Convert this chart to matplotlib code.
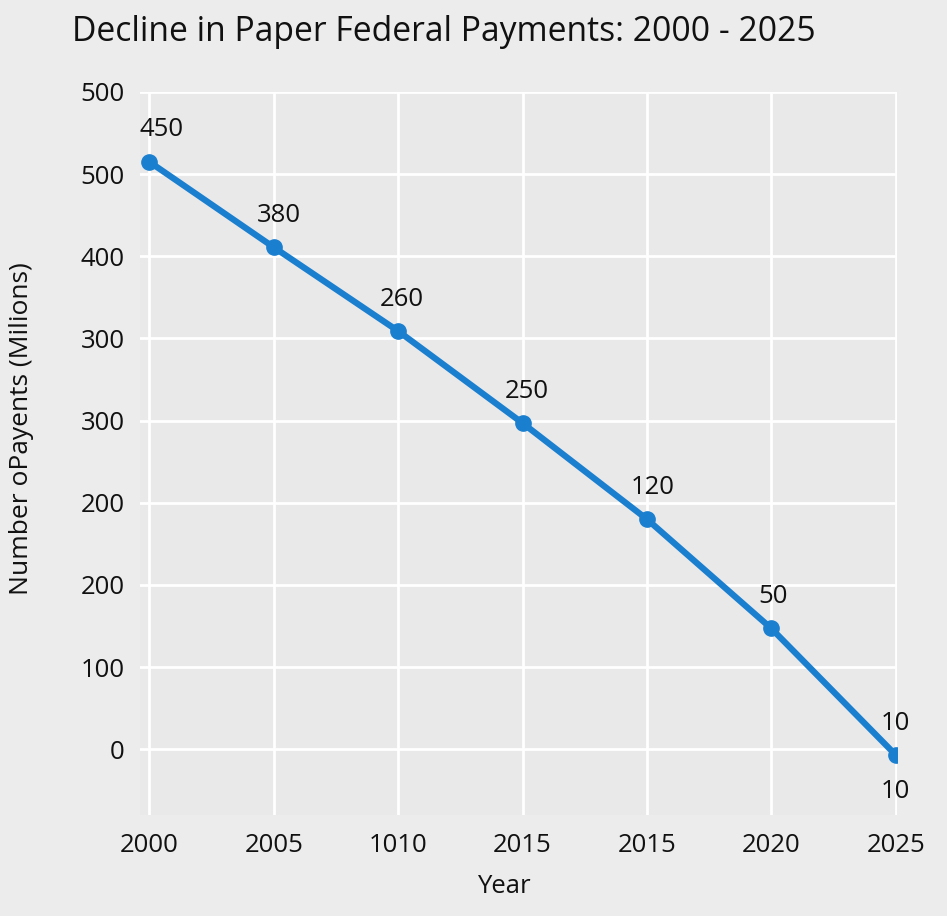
import matplotlib.pyplot as plt

# data (axis units: one grid step = 100)
x_labels = ['2000', '2005', '1010', '2015', '2015', '2020', '2025']
y_labels = ['0', '100', '200', '200', '300', '300', '400', '500', '500']
y_values = [715, 611, 509, 397, 280, 147, -7]
point_labels = ['450', '380', '260', '250', '120', '50', '10']
extra_label = '10'

plt.rcParams['font.family'] = ['Open Sans', 'DejaVu Sans']

fig = plt.figure(figsize=(9.47, 9.16), dpi=100)
fig.patch.set_facecolor('#ececec')
ax = fig.add_axes([0.1478, 0.1103, 0.7994, 0.7893])
ax.set_facecolor('#e9e9e9')

xs = list(range(len(y_values)))
ax.plot(xs, y_values, color='#1b7fd0', linewidth=4.5, marker='o',
        markersize=11, zorder=3)

#etiquetas dos pontos
dx = [9, 4, 3, 3, 4, 1, 0]
for i, lab in enumerate(point_labels):
    ax.annotate(lab, (xs[i], y_values[i]), xytext=(dx[i], 23),
                textcoords='offset points', ha='center', va='center',
                fontsize=18.5, color='#111111')
ax.annotate(extra_label, (xs[-1], y_values[-1]), xytext=(0, -26),
            textcoords='offset points', ha='center', va='center',
            fontsize=18.5, color='#111111')

ax.set_xlim(-0.075, 6.01)
ax.set_ylim(-80, 800)
ax.set_xticks(xs)
ax.set_xticklabels(x_labels)
ax.set_yticks([i * 100 for i in range(len(y_labels))])
ax.set_yticklabels(y_labels)
ax.tick_params(length=0, labelsize=18.5, colors='#111111')
ax.tick_params(axis='x', pad=13)
ax.tick_params(axis='y', pad=11)
ax.grid(True, color='white', linewidth=2)
ax.set_axisbelow(True)
for s in ax.spines.values():
    s.set_visible(False)

ax.set_xlabel('Year', fontsize=18.5, color='#111111')
ax.xaxis.set_label_coords(0.48, -0.082)
ax.set_ylabel('Number oPayents (Milions)', fontsize=19, color='#111111')
ax.yaxis.set_label_coords(-0.14, 0.535)

fig.text(0.076, 0.965, 'Decline in Paper Federal Payments: 2000 - 2025',
         fontsize=24.2, color='#111111', ha='left', va='center')

fig.savefig('out.png', dpi=100, facecolor=fig.get_facecolor())
